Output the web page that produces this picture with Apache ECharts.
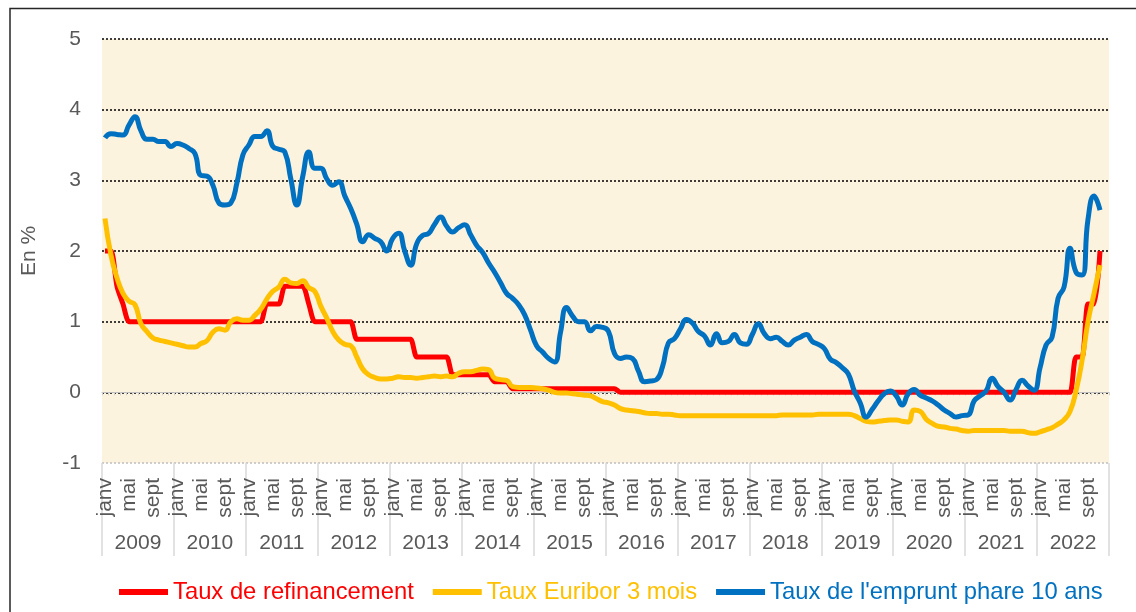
<!DOCTYPE html>
<html>
<head>
<meta charset="utf-8">
<script src="https://cdn.jsdelivr.net/npm/echarts@6/dist/echarts.min.js"></script>
<style>
  html, body {margin: 0; padding: 0; background: #fff;}
  #chart {width: 1136px; height: 612px;}
</style>
</head>
<body>
<div id="chart"></div>
<script>
// taux mensuels, janv 2009 -> nov 2022

const years = ['2009', '2010', '2011', '2012', '2013', '2014', '2015',
               '2016', '2017', '2018', '2019', '2020', '2021', '2022'];
const monthNames = ['janv', 'févr', 'mars', 'avr', 'mai', 'juin',
                    'juil', 'août', 'sept', 'oct', 'nov', 'déc'];
const yTicks = [-1, 0, 1, 2, 3, 4, 5];

// Taux de refinancement (BCE)
const refi = [
    2.0, 2.0, 1.5, 1.25, 1.0, 1.0, 1.0, 1.0, 1.0, 1.0, 1.0, 1.0,          // 2009
    1.0, 1.0, 1.0, 1.0, 1.0, 1.0, 1.0, 1.0, 1.0, 1.0, 1.0, 1.0,           // 2010
    1.0, 1.0, 1.0, 1.25, 1.25, 1.25, 1.5, 1.5, 1.5, 1.5, 1.25, 1.0,       // 2011
    1.0, 1.0, 1.0, 1.0, 1.0, 1.0, 0.75, 0.75, 0.75, 0.75, 0.75, 0.75,     // 2012
    0.75, 0.75, 0.75, 0.75, 0.5, 0.5, 0.5, 0.5, 0.5, 0.5, 0.25, 0.25,     // 2013
    0.25, 0.25, 0.25, 0.25, 0.25, 0.15, 0.15, 0.15, 0.05, 0.05, 0.05, 0.05, // 2014
    0.05, 0.05, 0.05, 0.05, 0.05, 0.05, 0.05, 0.05, 0.05, 0.05, 0.05, 0.05, // 2015
    0.05, 0.05, 0, 0, 0, 0, 0, 0, 0, 0, 0, 0,                             // 2016
    0, 0, 0, 0, 0, 0, 0, 0, 0, 0, 0, 0,                                   // 2017
    0, 0, 0, 0, 0, 0, 0, 0, 0, 0, 0, 0,                                   // 2018
    0, 0, 0, 0, 0, 0, 0, 0, 0, 0, 0, 0,                                   // 2019
    0, 0, 0, 0, 0, 0, 0, 0, 0, 0, 0, 0,                                   // 2020
    0, 0, 0, 0, 0, 0, 0, 0, 0, 0, 0, 0,                                   // 2021
    0, 0, 0, 0, 0, 0, 0.5, 0.5, 1.25, 1.25, 2.0                           // 2022
];

// Taux Euribor 3 mois
const euribor = [
    2.46, 1.94, 1.62, 1.40, 1.29, 1.24, 0.97, 0.86, 0.77, 0.74, 0.72, 0.70,
    0.68, 0.66, 0.64, 0.64, 0.69, 0.73, 0.85, 0.90, 0.88, 1.00, 1.04, 1.02,
    1.02, 1.09, 1.18, 1.32, 1.43, 1.49, 1.60, 1.55, 1.54, 1.58, 1.48, 1.43,
    1.22, 1.05, 0.86, 0.74, 0.68, 0.66, 0.50, 0.33, 0.25, 0.21, 0.19, 0.19,
    0.20, 0.22, 0.21, 0.21, 0.20, 0.21, 0.22, 0.23, 0.22, 0.23, 0.22, 0.27,
    0.29, 0.29, 0.31, 0.33, 0.32, 0.20, 0.18, 0.17, 0.08, 0.07, 0.07, 0.07,
    0.06, 0.05, 0.03, 0.00, -0.01, -0.01, -0.02, -0.03, -0.04, -0.05, -0.09, -0.13,
    -0.15, -0.18, -0.23, -0.25, -0.26, -0.27, -0.29, -0.30, -0.30, -0.31, -0.31, -0.32,
    -0.33, -0.33, -0.33, -0.33, -0.33, -0.33, -0.33, -0.33, -0.33, -0.33, -0.33, -0.33,
    -0.33, -0.33, -0.33, -0.33, -0.33, -0.32, -0.32, -0.32, -0.32, -0.32, -0.32, -0.31,
    -0.31, -0.31, -0.31, -0.31, -0.31, -0.33, -0.37, -0.41, -0.42, -0.41, -0.40, -0.39,
    -0.39, -0.41, -0.42, -0.25, -0.27, -0.38, -0.44, -0.48, -0.49, -0.51, -0.52, -0.54,
    -0.55, -0.54, -0.54, -0.54, -0.54, -0.54, -0.54, -0.55, -0.55, -0.55, -0.57, -0.58,
    -0.56, -0.53, -0.50, -0.45, -0.39, -0.27, 0.02, 0.45, 1.00, 1.40, 1.80
];

// Taux de l'emprunt phare 10 ans
const oat10 = [
    3.60, 3.66, 3.65, 3.64, 3.78, 3.90, 3.70, 3.58, 3.58, 3.55, 3.55, 3.48,
    3.52, 3.50, 3.45, 3.38, 3.07, 3.06, 2.93, 2.68, 2.65, 2.68, 2.96, 3.36,
    3.50, 3.62, 3.62, 3.70, 3.48, 3.44, 3.40, 3.02, 2.65, 3.06, 3.40, 3.17,
    3.17, 3.02, 2.93, 2.98, 2.78, 2.60, 2.38, 2.13, 2.23, 2.18, 2.13, 2.00,
    2.18, 2.25, 2.00, 1.80, 2.10, 2.22, 2.25, 2.38, 2.48, 2.35, 2.27, 2.33,
    2.37, 2.23, 2.08, 1.98, 1.83, 1.70, 1.55, 1.40, 1.33, 1.24, 1.10, 0.88,
    0.66, 0.57, 0.48, 0.43, 0.85, 1.20, 1.08, 1.00, 1.00, 0.87, 0.93, 0.92,
    0.86, 0.55, 0.48, 0.50, 0.48, 0.30, 0.15, 0.16, 0.18, 0.36, 0.70, 0.76,
    0.90, 1.03, 0.98, 0.86, 0.80, 0.67, 0.83, 0.70, 0.72, 0.82, 0.70, 0.68,
    0.82, 0.97, 0.83, 0.76, 0.78, 0.72, 0.67, 0.74, 0.78, 0.82, 0.72, 0.68,
    0.62, 0.47, 0.42, 0.35, 0.26, 0.02, -0.15, -0.35, -0.24, -0.12, -0.02, 0.02,
    -0.05, -0.18, -0.02, 0.04, -0.04, -0.08, -0.12, -0.18, -0.25, -0.30, -0.35, -0.33,
    -0.32, -0.12, -0.05, 0.02, 0.20, 0.08, 0.00, -0.11, 0.04, 0.17, 0.09, 0.03,
    0.35, 0.67, 0.78, 1.33, 1.49, 2.04, 1.70, 1.66, 2.45, 2.78, 2.58
];

const names = ['Taux de refinancement', 'Taux Euribor 3 mois', "Taux de l'emprunt phare 10 ans"];
const colors = ['#ff0000', '#ffc000', '#0070c0'];

// une catégorie par mois
let months = [];
years.forEach(function (y) {
    monthNames.forEach(function (m) { months.push(m + ' ' + y); });
});

const font = 'Liberation Sans, Arial, sans-serif';
const grey = '#595959';

let option = {
    backgroundColor: '#ffffff',
    animation: false,
    graphic: [{
        type: 'rect',
        shape: {x: 10, y: 8.5, width: 1140, height: 620},
        style: {fill: 'none', stroke: '#262626', lineWidth: 1.5},
        silent: true
    }],
    grid: {left: 102, top: 39, right: 27, bottom: 149, backgroundColor: '#fcf3df', show: true, borderWidth: 0},
    legend: {
        left: 114,
        top: 575,
        itemWidth: 49,
        itemHeight: 6,
        itemGap: 19,
        icon: 'rect',
        data: names.map(function (n, i) {
            return {name: n, textStyle: {color: colors[i]}};
        }),
        textStyle: {fontFamily: font, fontSize: 23.8}
    },
    xAxis: [{
        type: 'category',
        data: months,
        boundaryGap: true,
        axisLine: {lineStyle: {color: '#bfbfbf', width: 1}},
        axisTick: {show: true, interval: 0, length: 3, lineStyle: {color: '#d0d0d0'}},
        axisLabel: {
            interval: 3,
            rotate: 90,
            margin: 15,
            color: grey,
            fontFamily: font,
            fontSize: 21,
            formatter: function (v) { return v.split(' ')[0]; }
        },
        splitLine: {show: false}
    }, {
        type: 'category',
        data: years,
        position: 'bottom',
        boundaryGap: true,
        axisLine: {show: false},
        axisTick: {show: true, interval: 0, length: 93, lineStyle: {color: '#d9d9d9', width: 1.5}},
        axisLabel: {margin: 70, color: grey, fontFamily: font, fontSize: 21, interval: 0}
    }],
    yAxis: {
        type: 'value',
        min: yTicks[0],
        max: yTicks[yTicks.length - 1],
        interval: 1,
        name: 'En %',
        nameLocation: 'middle',
        nameGap: 62,
        nameTextStyle: {color: grey, fontFamily: font, fontSize: 21},
        axisLine: {show: false},
        axisTick: {show: false},
        axisLabel: {margin: 21, color: grey, fontFamily: font, fontSize: 21},
        splitLine: {
            lineStyle: {
                color: ['#bfbfbf', '#000', '#000', '#000', '#000', '#000', '#000'],
                type: [2, 2],
                width: 1.5
            }
        }
    },
    series: [{
        name: names[0],
        type: 'line',
        data: refi,
        smooth: 0.25,
        showSymbol: false,
        lineStyle: {color: colors[0], width: 5},
        itemStyle: {color: colors[0]}
    }, {
        name: names[1],
        type: 'line',
        data: euribor,
        smooth: 0.5,
        showSymbol: false,
        lineStyle: {color: colors[1], width: 5},
        itemStyle: {color: colors[1]}
    }, {
        name: names[2],
        type: 'line',
        data: oat10,
        smooth: 0.5,
        showSymbol: false,
        lineStyle: {color: colors[2], width: 5},
        itemStyle: {color: colors[2]}
    }]
};

var chart = echarts.init(document.getElementById('chart'));
chart.setOption(option);

window.onresize = function () {
    chart.resize();
};
</script>
</body>
</html>
